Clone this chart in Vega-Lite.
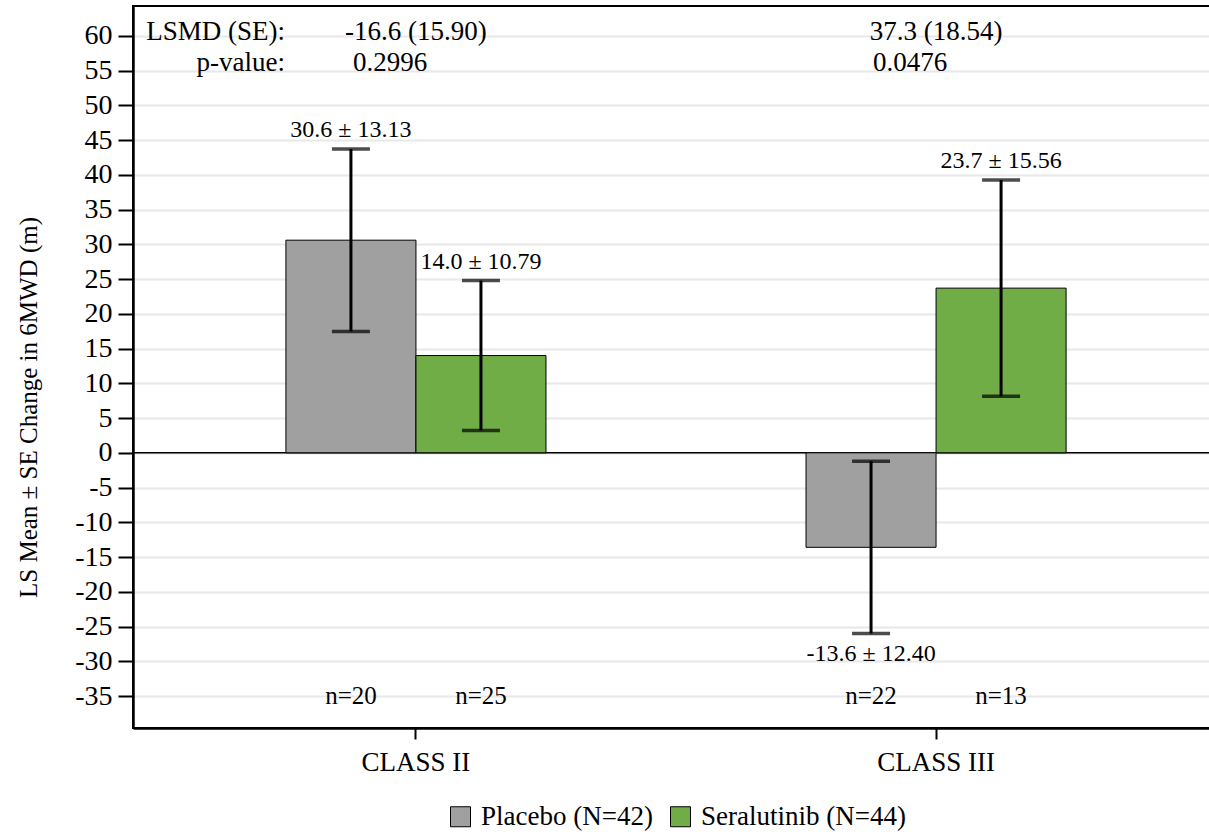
{
  "$schema": "https://vega.github.io/schema/vega-lite/v6.json",
  "autosize": {"type": "none"},
  "padding": {"left": 133, "top": 6, "right": 0, "bottom": 104},
  "width": 1086,
  "height": 722,
  "background": "white",
  "config": {
    "font": "Liberation Serif",
    "view": {"stroke": "black", "strokeWidth": 2},
    "axis": {"labelFont": "Liberation Serif", "titleFont": "Liberation Serif", "labelColor": "black", "titleColor": "black"},
    "axisY": {"labelOverlap": false, "labelSeparation": 0, "labelFontSize": 28},
    "legend": {"labelFont": "Liberation Serif"}
  },
  "datasets": {
    "bars": [
      {"cls": "CLASS II", "grp": "Placebo (N=42)", "mean": 30.6, "lo": 17.47, "hi": 43.73, "label": "30.6 ± 13.13", "n": "n=20", "ny": -35},
      {"cls": "CLASS II", "grp": "Seralutinib (N=44)", "mean": 14.0, "lo": 3.21, "hi": 24.79, "label": "14.0 ± 10.79", "n": "n=25", "ny": -35},
      {"cls": "CLASS III", "grp": "Placebo (N=42)", "mean": -13.6, "lo": -26.0, "hi": -1.2, "label": "-13.6 ± 12.40", "n": "n=22", "ny": -35},
      {"cls": "CLASS III", "grp": "Seralutinib (N=44)", "mean": 23.7, "lo": 8.14, "hi": 39.26, "label": "23.7 ± 15.56", "n": "n=13", "ny": -35}
    ],
    "stats": [
      {"cls": "CLASS II", "lsmd": "-16.6 (15.90)", "p": "0.2996", "ylsmd": 59.4, "yp": 54.9},
      {"cls": "CLASS III", "lsmd": "37.3 (18.54)", "p": "0.0476", "ylsmd": 59.4, "yp": 54.9}
    ],
    "heads": [
      {"cls": "CLASS II", "txt": "LSMD (SE):", "y": 59.4},
      {"cls": "CLASS II", "txt": "p-value:", "y": 54.9}
    ],
    "zero": [{"z": 0}]
  },
  "encoding": {
    "x": {
      "field": "cls", "type": "nominal",
      "scale": {"domain": ["CLASS II", "CLASS III"], "paddingInner": 0, "paddingOuter": 0.044},
      "axis": {"title": null, "labelAngle": 0, "labelFontSize": 27, "labelPadding": 10, "tickSize": 11, "tickWidth": 2, "tickColor": "black", "domainColor": "black", "domainWidth": 2.5, "grid": false}
    }
  },
  "layer": [
    {
      "data": {"name": "zero"},
      "mark": {"type": "rule", "color": "black", "strokeWidth": 1.5},
      "encoding": {
        "x": null,
        "y": {
          "field": "z", "type": "quantitative",
          "scale": {"domain": [-39.6, 64.3], "nice": false, "zero": false},
          "axis": {
            "title": "LS Mean ± SE Change in 6MWD (m)", "titleFontSize": 25, "titleFontWeight": "normal",
            "titleX": -105, "titleY": 401, "titleAngle": -90, "titleAlign": "center", "titleBaseline": "middle",
            "values": [-35, -30, -25, -20, -15, -10, -5, 0, 5, 10, 15, 20, 25, 30, 35, 40, 45, 50, 55, 60],
            "tickCount": 40,
            "labelExpr": "'' + datum.value", "labelOverlap": false,
            "labelFontSize": 28, "labelPadding": 6, "tickSize": 15, "tickWidth": 2, "tickColor": "black",
            "domainColor": "black", "domainWidth": 2.5,
            "grid": true, "gridColor": "#e8e8e8", "gridWidth": 2
          }
        }
      }
    },
    {
      "data": {"name": "bars"},
      "mark": {"type": "bar", "stroke": "black", "strokeWidth": 1},
      "encoding": {
        "xOffset": {"field": "grp", "type": "nominal", "scale": {"domain": ["Placebo (N=42)", "Seralutinib (N=44)"], "paddingOuter": 1, "paddingInner": 0}},
        "y": {"field": "mean", "type": "quantitative"},
        "color": {
          "field": "grp", "type": "nominal",
          "scale": {"domain": ["Placebo (N=42)", "Seralutinib (N=44)"], "range": ["#a0a0a0", "#70ad47"]},
          "legend": {
            "title": null, "orient": "none", "direction": "horizontal", "legendX": 314, "legendY": 797,
            "symbolType": "square", "symbolSize": 400, "symbolStrokeColor": "black", "symbolStrokeWidth": 1, "symbolOpacity": 1,
            "labelFontSize": 27, "labelColor": "black", "labelOffset": 7, "columnPadding": 14, "labelLimit": 0
          }
        }
      }
    },
    {
      "data": {"name": "bars"},
      "mark": {"type": "rule", "color": "black", "strokeWidth": 3},
      "encoding": {
        "xOffset": {"field": "grp", "type": "nominal", "scale": {"domain": ["Placebo (N=42)", "Seralutinib (N=44)"], "paddingOuter": 1, "paddingInner": 0}},
        "y": {"field": "lo", "type": "quantitative"},
        "y2": {"field": "hi"}
      }
    },
    {
      "data": {"name": "bars"},
      "mark": {"type": "tick", "color": "black", "thickness": 3.5, "size": 38, "orient": "horizontal"},
      "encoding": {
        "xOffset": {"field": "grp", "type": "nominal", "scale": {"domain": ["Placebo (N=42)", "Seralutinib (N=44)"], "paddingOuter": 1, "paddingInner": 0}},
        "y": {"field": "lo", "type": "quantitative"}
      }
    },
    {
      "data": {"name": "bars"},
      "mark": {"type": "tick", "color": "black", "thickness": 3.5, "size": 38, "orient": "horizontal"},
      "encoding": {
        "xOffset": {"field": "grp", "type": "nominal", "scale": {"domain": ["Placebo (N=42)", "Seralutinib (N=44)"], "paddingOuter": 1, "paddingInner": 0}},
        "y": {"field": "hi", "type": "quantitative"}
      }
    },
    {
      "data": {"name": "bars"},
      "transform": [{"filter": "datum.mean > 0"}],
      "mark": {"type": "text", "fontSize": 24, "baseline": "alphabetic", "dy": -12, "color": "black"},
      "encoding": {
        "xOffset": {"field": "grp", "type": "nominal", "scale": {"domain": ["Placebo (N=42)", "Seralutinib (N=44)"], "paddingOuter": 1, "paddingInner": 0}},
        "y": {"field": "hi", "type": "quantitative"},
        "text": {"field": "label"}
      }
    },
    {
      "data": {"name": "bars"},
      "transform": [{"filter": "datum.mean < 0"}],
      "mark": {"type": "text", "fontSize": 24, "baseline": "alphabetic", "dy": 28, "color": "black"},
      "encoding": {
        "xOffset": {"field": "grp", "type": "nominal", "scale": {"domain": ["Placebo (N=42)", "Seralutinib (N=44)"], "paddingOuter": 1, "paddingInner": 0}},
        "y": {"field": "lo", "type": "quantitative"},
        "text": {"field": "label"}
      }
    },
    {
      "data": {"name": "bars"},
      "mark": {"type": "text", "fontSize": 25, "baseline": "middle", "color": "black"},
      "encoding": {
        "xOffset": {"field": "grp", "type": "nominal", "scale": {"domain": ["Placebo (N=42)", "Seralutinib (N=44)"], "paddingOuter": 1, "paddingInner": 0}},
        "y": {"field": "ny", "type": "quantitative"},
        "text": {"field": "n"}
      }
    },
    {
      "data": {"name": "stats"},
      "mark": {"type": "text", "fontSize": 27, "baseline": "alphabetic", "align": "center", "color": "black"},
      "encoding": {
        "y": {"field": "ylsmd", "type": "quantitative"},
        "text": {"field": "lsmd"}
      }
    },
    {
      "data": {"name": "stats"},
      "mark": {"type": "text", "fontSize": 27, "baseline": "alphabetic", "align": "left", "dx": -63, "color": "black"},
      "encoding": {
        "y": {"field": "yp", "type": "quantitative"},
        "text": {"field": "p"}
      }
    },
    {
      "data": {"name": "heads"},
      "mark": {"type": "text", "fontSize": 27, "baseline": "alphabetic", "align": "right", "dx": -131, "color": "black"},
      "encoding": {
        "y": {"field": "y", "type": "quantitative"},
        "text": {"field": "txt"}
      }
    }
  ]
}
